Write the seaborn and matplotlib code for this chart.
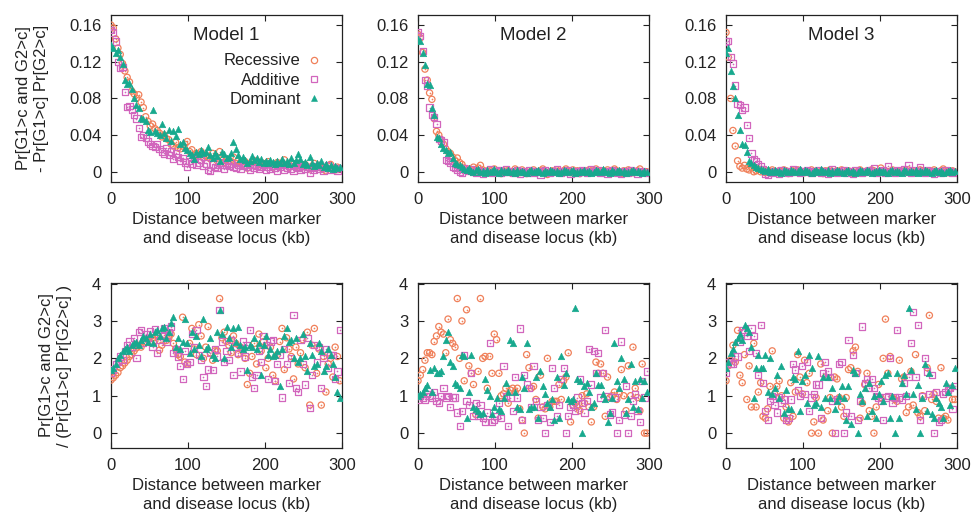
import matplotlib.pyplot as plt
import numpy as np
import pandas as pd
import seaborn as sns
from matplotlib.lines import Line2D

# marker to disease locus distance (kb), shared by every series
distance_kb = np.arange(0, 300, 3)

# %% top row: Pr[G1>c and G2>c] - Pr[G1>c] Pr[G2>c]  (values in units of 1e-3)
m1_diff_recessive = [
    160, 157, 145, 135, 128, 118, 110, 103, 98, 88,
    85, 80, 84, 76, 70, 60, 55, 50, 52, 47,
    45, 42, 38, 40, 36, 35, 30, 28, 32, 26,
    25, 28, 30, 33, 22, 24, 18, 20, 17, 22,
    15, 18, 16, 14, 20, 15, 12, 22, 13, 10,
    14, 12, 11, 16, 9, 12, 10, 8, 11, 4,
    9, 10, 7, 12, 8, 10, 6, 9, 11, 7,
    5, 8, 10, 6, 9, 13, 7, 5, 10, 8,
    6, 9, 4, 7, 8, 5, 3, 6, 9, 5,
    7, 4, 3, 1, 6, 8, 4, 2, 5, 3,
]
m1_diff_additive = [
    155, 152, 142, 120, 113, 114, 87, 71, 72, 68,
    62, 58, 48, 38, 40, 37, 33, 30, 28, 27,
    30, 25, 22, 20, 26, 18, 22, 14, 20, 16,
    12, 15, 10, 5, 12, 9, 14, 7, 10, 13,
    6, 9, 2, 1, 8, 5, 4, 10, 7, 3,
    8, 6, 9, 5, 4, 7, 3, 6, 8, 5,
    2, 7, 4, 6, 3, 5, 8, 2, 5, 3,
    6, 4, 1, 5, 7, 2, 4, 6, 3, 1,
    5, 4, 2, 6, 3, 5, -1, 4, 2, 6,
    3, 5, 1, 4, 7, 2, 5, 3, 1, 4,
]
m1_diff_dominant = [
    138, 135, 130, 133, 125, 118, 100, 96, 97, 90,
    80, 73, 70, 59, 58, 55, 46, 43, 67, 44,
    42, 40, 52, 42, 37, 45, 33, 44, 39, 47,
    30, 32, 26, 24, 20, 18, 14, 22, 19, 24,
    20, 22, 27, 18, 15, 20, 17, 12, 22, 19,
    15, 16, 20, 32, 25, 18, 14, 16, 13, 10,
    12, 17, 13, 15, 11, 14, 10, 12, 9, 13,
    11, 8, 12, 10, 14, 9, 12, 8, 15, 10,
    13, 19, 14, 8, 11, 7, 16, 9, 6, 10,
    7, 12, 5, 8, 4, 7, 3, 6, 4, 5,
]
m2_diff_recessive = [
    150, 146, 130, 112, 100, 86, 79, 58, 44, 40,
    35, 30, 25, 22, 20, 16, 12, 15, 10, 8,
    4, 2, 3, 1, 5, 2, 4, 7, 2, 0,
    1, -1, 2, 3, 0, 1, -2, 0, 2, 1,
    -1, 0, 3, 1, -1, 2, 0, -2, 1, 0,
    2, -1, 0, 1, 3, 0, -3, -1, 1, 0,
    2, 0, -1, 1, 3, 0, -1, 2, 0, 1,
    -2, 0, 1, -1, 2, 0, 1, 3, 0, -1,
    1, 0, 2, -1, 0, 3, 1, 0, -2, 1,
    0, 2, 1, -1, 0, 1, 3, 0, -1, 0,
]
m2_diff_additive = [
    152, 148, 132, 100, 94, 70, 62, 60, 52, 36,
    34, 32, 13, 12, 10, 5, 4, 2, 0, -1,
    4, 2, 1, 3, 0, -1, 2, 0, -2, 1,
    0, 3, -1, 0, 1, 2, -1, 0, 3, 0,
    1, -1, 0, 2, -2, 1, 0, -1, 2, 0,
    -1, 1, 0, -3, 1, 2, 0, -1, 0, 1,
    3, 0, -1, 1, 0, 2, -2, 0, 1, -1,
    0, 2, 1, -1, 0, 3, 1, 0, 2, -1,
    0, 1, -2, 0, 2, 1, -1, 0, -2, 1,
    0, -1, 2, 0, 1, -2, 0, 1, 0, -1,
]
m2_diff_dominant = [
    145, 143, 130, 117, 96, 95, 70, 62, 38, 37,
    30, 26, 24, 20, 22, 15, 10, 8, 7, 5,
    3, 2, 4, 1, 0, 2, 3, 0, 1, -1,
    2, 0, 1, 3, 0, -1, 2, 1, 0, 2,
    0, 1, -1, 2, 0, 1, 0, -1, 1, 2,
    0, 1, 2, 0, -1, 1, 0, 2, 1, 0,
    1, -1, 0, 2, 1, 0, 1, 2, -1, 0,
    1, 0, 2, 0, 1, -1, 0, 2, 1, 0,
    3, 1, 0, -1, 2, 0, 1, 2, 0, 1,
    -1, 0, 1, 2, 0, 1, 0, -1, 1, 0,
]
m3_diff_recessive = [
    152, 125, 80, 45, 28, 12, 6, 4, 7, 3,
    2, 5, 0, 1, 3, 0, 2, -1, 1, 0,
    2, 0, -1, 1, 0, 2, 1, -2, 0, 1,
    0, 2, 1, 0, -1, 1, 0, 2, -1, 0,
    1, 0, -2, 1, 0, 2, 0, -1, 1, 0,
    2, -1, 0, 1, 0, -2, 1, 0, 2, 0,
    -1, 1, 0, 2, 1, -1, 0, 4, 0, 1,
    0, -1, 2, 0, 1, 0, -1, 1, 0, 2,
    1, 0, -1, 0, 2, 1, -1, 0, 1, 0,
    2, 0, -1, 1, 3, 0, -1, 0, 1, 0,
]
m3_diff_additive = [
    142, 143, 125, 118, 94, 74, 73, 67, 70, 51,
    37, 20, 14, 12, 8, 6, 3, -2, -3, 0,
    -1, 1, 0, -2, 2, 0, 1, -1, 0, 3,
    0, 2, -1, 0, 1, 2, 0, -1, 1, 0,
    2, -1, 1, 0, -2, 1, 3, 0, -1, 1,
    0, 2, -1, 1, 0, -2, 2, 0, 1, -1,
    0, 1, 2, 0, 4, -1, 0, 1, 2, -1,
    6, 0, 1, -1, 2, 0, 1, 3, 0, 7,
    -1, 2, 0, 1, 5, 0, -1, 2, 0, 1,
    -2, 0, 1, -1, 0, 2, 0, 1, -1, 0,
]
m3_diff_dominant = [
    130, 135, 110, 94, 80, 62, 45, 30, 29, 22,
    12, 9, 7, 5, 4, 3, 2, 1, 3, 0,
    1, 2, 0, 1, -1, 2, 1, 0, 2, 1,
    0, 1, 3, 0, 2, 1, 0, -1, 1, 2,
    0, 3, 1, 0, 2, -1, 1, 0, 2, 1,
    0, -1, 1, 2, 0, 1, -1, 0, 2, 1,
    0, 2, 1, -1, 0, 1, 2, 0, 1, 0,
    -1, 1, 2, 0, 1, 0, -1, 2, 1, 0,
    1, 0, 2, -1, 1, 0, 2, 1, 0, -1,
    1, 2, 0, 1, -1, 0, 1, 2, 0, 1,
]

# %% bottom row: Pr[G1>c and G2>c] / (Pr[G1>c] Pr[G2>c])
m1_ratio_recessive = [
    1.42, 1.48, 1.55, 1.62, 1.75, 1.80, 1.88, 1.95, 2.05, 2.10,
    2.20, 2.28, 2.35, 2.30, 2.40, 2.45, 2.50, 2.42, 2.55, 2.48,
    2.60, 2.22, 2.35, 2.62, 2.48, 2.55, 2.65, 2.40, 2.25, 2.10,
    2.05, 3.10, 1.90, 1.85, 2.40, 2.80, 2.25, 2.10, 2.90, 2.60,
    2.00, 2.30, 2.85, 2.15, 1.95, 2.20, 2.20, 3.60, 2.55, 2.70,
    2.45, 2.35, 2.15, 2.60, 2.40, 2.10, 2.30, 2.20, 2.00, 1.30,
    1.60, 2.05, 2.40, 1.85, 2.65, 2.20, 2.45, 1.75, 2.00, 2.30,
    1.55, 1.40, 2.10, 2.45, 2.80, 1.70, 2.55, 2.25, 2.05, 1.45,
    2.30, 1.85, 2.15, 2.50, 1.75, 2.70, 0.75, 2.35, 2.80, 1.60,
    2.25, 0.75, 2.05, 1.10, 1.85, 2.00, 1.50, 2.30, 2.05, 1.40,
]
m1_ratio_additive = [
    1.62, 1.70, 1.85, 1.90, 2.05, 1.95, 2.20, 2.35, 2.45, 2.30,
    2.55, 2.00, 2.70, 2.75, 2.40, 2.65, 2.55, 2.72, 2.30, 2.78,
    2.15, 2.50, 2.60, 2.80, 2.45, 2.70, 2.85, 2.15, 2.25, 2.05,
    1.80, 1.45, 2.20, 1.85, 1.90, 2.65, 2.30, 2.75, 2.10, 1.95,
    1.50, 1.25, 1.70, 2.15, 1.68, 2.25, 2.05, 3.30, 2.45, 1.90,
    2.20, 1.95, 2.50, 1.55, 2.30, 2.15, 1.65, 2.45, 2.05, 2.35,
    2.75, 1.50, 1.20, 1.55, 2.20, 1.90, 2.60, 2.35, 1.45, 2.45,
    2.50, 1.40, 1.85, 2.10, 0.95, 2.25, 1.85, 1.35, 2.00, 3.15,
    1.20, 1.10, 2.50, 1.85, 1.30, 2.55, 0.68, 1.55, 2.35, 1.90,
    2.30, 1.20, 2.00, 2.25, 1.75, 2.10, 2.10, 1.45, 1.65, 2.75,
]
m1_ratio_dominant = [
    1.70, 1.75, 1.85, 2.00, 2.10, 2.20, 2.25, 2.30, 2.20, 2.35,
    2.40, 2.45, 2.35, 2.50, 2.60, 2.55, 2.45, 2.65, 2.40, 2.70,
    2.75, 2.60, 2.80, 2.85, 2.55, 2.70, 2.95, 3.10, 2.30, 2.55,
    2.25, 2.45, 3.05, 2.40, 2.15, 2.70, 2.25, 2.60, 2.35, 2.05,
    3.05, 2.25, 2.30, 2.55, 2.10, 2.00, 2.70, 3.30, 2.65, 2.00,
    2.85, 2.55, 2.30, 2.80, 2.45, 2.85, 2.35, 2.25, 2.30, 1.70,
    2.35, 2.30, 2.55, 2.25, 2.40, 1.55, 2.35, 2.60, 2.10, 2.25,
    2.05, 2.10, 2.20, 1.25, 2.25, 2.60, 2.80, 2.45, 2.50, 2.00,
    2.55, 1.90, 2.00, 2.65, 2.05, 1.65, 2.40, 2.10, 1.80, 1.85,
    2.40, 2.20, 1.65, 1.80, 2.25, 2.10, 1.85, 1.50, 1.10, 0.95,
]
m2_ratio_recessive = [
    1.40, 1.55, 1.70, 1.95, 2.15, 2.15, 2.10, 2.45, 2.60, 2.85,
    2.70, 2.65, 2.15, 3.05, 2.50, 2.40, 2.30, 3.60, 2.00, 3.00,
    1.40, 3.30, 1.80, 1.60, 1.30, 0.50, 1.65, 3.60, 2.00, 2.05,
    1.20, 2.05, 1.60, 2.65, 2.50, 1.60, 1.00, 1.05, 1.20, 0.80,
    1.15, 1.20, 1.10, 1.20, 0.65, 0.35, 0.00, 2.10, 1.75, 1.20,
    1.25, 0.90, 0.40, 1.55, 0.70, 0.65, 2.00, 0.70, 0.85, 0.85,
    0.85, 1.30, 0.90, 1.40, 1.50, 2.15, 0.30, 0.75, 0.80, 0.70,
    0.60, 1.00, 0.80, 1.05, 0.70, 0.30, 0.70, 1.90, 1.60, 1.85,
    1.60, 0.45, 1.50, 0.95, 1.00, 1.10, 0.90, 1.05, 1.70, 1.00,
    0.60, 1.80, 1.00, 2.30, 1.20, 0.95, 0.60, 1.85, 0.00, 0.00,
]
m2_ratio_additive = [
    0.90, 1.00, 0.95, 0.90, 1.05, 1.00, 0.95, 1.10, 0.85, 0.80,
    1.00, 1.20, 0.95, 1.00, 0.70, 0.95, 0.95, 0.55, 0.20, 0.60,
    2.10, 0.85, 0.75, 1.60, 0.45, 0.80, 0.45, 0.75, 0.40, 0.30,
    0.55, 2.40, 0.30, 0.35, 0.45, 0.80, 0.40, 1.80, 1.00, 0.20,
    0.95, 0.60, 1.50, 0.95, 2.80, 0.35, 1.55, 1.30, 1.20, 0.70,
    1.80, 0.85, 0.35, 0.70, 0.40, 0.00, 0.75, 0.30, 1.75, 1.20,
    0.45, 0.75, 1.45, 1.75, 0.00, 0.45, 0.70, 0.75, 0.60, 0.95,
    1.45, 0.80, 0.55, 0.85, 2.25, 1.30, 2.20, 1.60, 2.15, 0.95,
    1.60, 2.75, 1.00, 0.50, 0.55, 0.95, 0.00, 0.35, 2.45, 0.50,
    1.25, 0.00, 0.45, 0.85, 1.05, 0.60, 0.30, 1.40, 0.95, 1.65,
]
m2_ratio_dominant = [
    1.00, 1.05, 1.10, 1.20, 1.30, 1.70, 1.10, 1.75, 1.60, 1.60,
    1.65, 2.05, 2.50, 2.70, 1.90, 1.80, 1.35, 1.30, 1.20, 2.10,
    2.05, 0.40, 1.10, 2.10, 0.70, 0.65, 0.60, 0.50, 0.55, 1.45,
    1.15, 1.00, 0.50, 0.70, 0.95, 0.65, 0.60, 0.95, 1.35, 1.10,
    2.50, 2.40, 1.10, 0.70, 0.65, 1.50, 1.20, 2.40, 0.65, 0.70,
    0.70, 1.50, 0.40, 1.65, 1.25, 1.05, 0.80, 0.70, 0.90, 0.35,
    1.50, 0.40, 2.05, 1.30, 1.60, 0.90, 0.85, 0.90, 3.35, 1.45,
    1.40, 0.00, 1.25, 1.35, 1.10, 0.70, 0.80, 1.60, 1.30, 1.30,
    1.05, 0.90, 0.30, 0.55, 0.95, 2.40, 1.40, 1.20, 2.00, 1.45,
    0.55, 0.90, 1.85, 0.70, 1.40, 0.65, 1.45, 0.95, 1.40, 1.10,
]
m3_ratio_recessive = [
    1.40, 1.80, 1.95, 2.35, 1.90, 2.75, 1.55, 1.35, 2.10, 0.90,
    1.80, 0.70, 2.40, 0.70, 1.10, 1.35, 0.45, 0.40, 0.65, 1.25,
    2.20, 1.05, 1.25, 1.40, 1.00, 0.40, 0.70, 0.30, 1.35, 0.45,
    1.10, 2.10, 1.50, 1.05, 1.95, 1.35, 1.60, 0.00, 0.30, 0.95,
    0.00, 1.85, 0.35, 1.50, 0.60, 0.95, 0.00, 1.50, 1.45, 0.95,
    0.70, 0.45, 0.95, 1.70, 1.75, 2.20, 2.30, 1.65, 0.40, 0.80,
    1.30, 1.60, 0.60, 0.45, 0.00, 0.70, 1.30, 0.95, 2.00, 3.05,
    1.60, 2.05, 0.95, 0.90, 0.85, 1.95, 1.45, 1.50, 0.55, 0.70,
    1.65, 0.75, 2.10, 0.55, 0.45, 1.00, 0.60, 1.75, 3.15, 0.90,
    1.05, 0.85, 0.40, 1.75, 0.40, 0.45, 0.35, 1.20, 0.90, 0.90,
]
m3_ratio_additive = [
    1.60, 1.90, 1.85, 1.85, 2.05, 2.05, 2.45, 2.75, 2.70, 2.60,
    2.20, 2.80, 2.60, 2.15, 1.55, 2.90, 1.35, 0.60, 0.35, 0.85,
    1.00, 0.75, 0.55, 0.95, 0.80, 0.90, 0.35, 0.40, 0.90, 1.85,
    1.70, 1.15, 1.00, 1.80, 1.05, 1.90, 0.60, 0.95, 1.05, 1.30,
    1.30, 0.40, 1.60, 1.90, 1.65, 1.50, 0.85, 0.00, 0.90, 1.85,
    1.90, 0.00, 0.55, 2.50, 0.45, 2.10, 1.60, 0.35, 0.85, 2.85,
    1.35, 1.45, 1.20, 1.45, 1.20, 1.00, 0.95, 0.85, 0.35, 0.95,
    1.00, 2.00, 0.80, 0.95, 2.75, 0.95, 0.90, 1.35, 1.00, 1.50,
    2.40, 3.25, 1.50, 2.90, 0.35, 1.00, 2.00, 1.65, 1.05, 1.55,
    0.00, 1.10, 0.30, 0.35, 1.05, 1.10, 1.15, 1.20, 0.65, 1.25,
]
m3_ratio_dominant = [
    1.75, 1.90, 2.15, 2.25, 2.45, 2.55, 2.65, 2.50, 2.90, 2.80,
    2.70, 2.30, 0.95, 1.75, 2.10, 1.75, 1.75, 2.10, 1.10, 2.00,
    1.05, 1.20, 1.55, 0.95, 1.80, 0.55, 1.15, 0.65, 0.65, 1.50,
    1.45, 2.20, 0.60, 1.40, 1.55, 0.80, 2.10, 1.75, 0.75, 0.80,
    2.05, 0.70, 1.50, 0.95, 1.50, 0.95, 1.20, 0.65, 0.85, 1.00,
    1.25, 0.95, 0.35, 1.25, 0.25, 1.70, 1.60, 0.00, 1.05, 0.85,
    1.20, 0.45, 1.35, 0.60, 1.00, 0.40, 1.05, 1.40, 0.85, 1.55,
    1.60, 0.40, 1.00, 0.00, 1.60, 0.40, 1.35, 1.55, 1.05, 3.35,
    1.70, 1.05, 0.65, 1.30, 0.00, 0.95, 1.85, 0.60, 1.60, 0.50,
    0.40, 0.95, 0.80, 0.70, 0.40, 1.35, 1.10, 0.75, 1.30, 1.75,
]

models = ["Model 1", "Model 2", "Model 3"]
modes = ["Recessive", "Additive", "Dominant"]

diff_rows = [
    [m1_diff_recessive, m1_diff_additive, m1_diff_dominant],
    [m2_diff_recessive, m2_diff_additive, m2_diff_dominant],
    [m3_diff_recessive, m3_diff_additive, m3_diff_dominant],
]
ratio_rows = [
    [m1_ratio_recessive, m1_ratio_additive, m1_ratio_dominant],
    [m2_ratio_recessive, m2_ratio_additive, m2_ratio_dominant],
    [m3_ratio_recessive, m3_ratio_additive, m3_ratio_dominant],
]

# %%
colors = {"Recessive": "#f0805a", "Additive": "#d266bd", "Dominant": "#17a98e"}
markers = {"Recessive": "o", "Additive": "s", "Dominant": "^"}
ink = "#222222"

sns.set_theme(style="ticks")
plt.rcParams["font.family"] = ["Liberation Sans", "DejaVu Sans"]
plt.rcParams.update(
    {
        "font.size": 12,
        "text.color": ink,
        "axes.labelcolor": ink,
        "xtick.color": ink,
        "ytick.color": ink,
        "axes.edgecolor": ink,
        "axes.linewidth": 0.9,
    }
)


def draw_panel(ax, series, scale=1.0):
    for mode, values in zip(modes, series):
        df = pd.DataFrame(
            {"distance": distance_kb, "value": np.asarray(values, float) * scale}
        )
        c = colors[mode]
        if mode == "Dominant":
            sns.scatterplot(
                data=df, x="distance", y="value", marker="^", color=c,
                edgecolor=c, s=22, linewidth=0.4, ax=ax, zorder=4,
            )
        else:
            sns.scatterplot(
                data=df, x="distance", y="value", marker=markers[mode],
                facecolors="none", edgecolor=c, s=20, linewidth=0.9, ax=ax,
                zorder=3,
            )
            sns.scatterplot(
                data=df, x="distance", y="value", marker="o", color=c,
                s=1.5, linewidth=0, ax=ax, zorder=3,
            )


fig = plt.figure(figsize=(9.71, 5.18), dpi=100)
lefts = [0.1143, 0.4305, 0.7477]
width = 0.238
top_axes = [fig.add_axes([l, 0.649, width, 0.322]) for l in lefts]
bottom_axes = [fig.add_axes([l, 0.135, width, 0.319]) for l in lefts]

for i, ax in enumerate(top_axes):
    draw_panel(ax, diff_rows[i], scale=1e-3)
    ax.set_ylim(-0.011, 0.171)
    ax.set_yticks([0, 0.04, 0.08, 0.12, 0.16])
    ax.set_yticklabels(["0", "0.04", "0.08", "0.12", "0.16"])
    ax.text(0.5, 0.88, models[i], transform=ax.transAxes, ha="center",
            va="center", fontsize=13.5)

for i, ax in enumerate(bottom_axes):
    draw_panel(ax, ratio_rows[i])
    ax.set_ylim(-0.4, 4.02)
    ax.set_yticks([0, 1, 2, 3, 4])
    ax.set_yticklabels(["0", "1", "2", "3", "4"])

for ax in top_axes + bottom_axes:
    ax.set_xlim(0, 300)
    ax.set_xticks([0, 100, 200, 300])
    ax.tick_params(direction="in", top=True, right=True, length=4, width=0.8,
                   labelsize=12, pad=7)
    ax.set_xlabel("Distance between marker\nand disease locus (kb)",
                  fontsize=12, labelpad=4, linespacing=1.3)
    ax.set_ylabel("")
    for spine in ax.spines.values():
        spine.set_visible(True)

top_axes[0].set_ylabel("Pr[G1>c and G2>c]\n- Pr[G1>c] Pr[G2>c]",
                       fontsize=12, labelpad=14, linespacing=1.3)
bottom_axes[0].set_ylabel("Pr[G1>c and G2>c]\n/ (Pr[G1>c] Pr[G2>c] )",
                          fontsize=12, labelpad=14, linespacing=1.3)

handles = []
for mode in modes:
    if mode == "Dominant":
        h = Line2D([], [], ls="", marker="^", color=colors[mode],
                   markersize=4.7, markeredgewidth=0.4)
    else:
        h = Line2D([], [], ls="", marker=markers[mode], markerfacecolor="none",
                   markeredgecolor=colors[mode], markersize=4.5,
                   markeredgewidth=0.9)
    handles.append(h)
top_axes[0].legend(
    handles, modes, loc="upper right", bbox_to_anchor=(0.9, 0.77),
    frameon=False, markerfirst=False, handlelength=0.6, handletextpad=0.5,
    labelspacing=0.25, borderpad=0, borderaxespad=0, fontsize=12,
)

plt.savefig("out.png", dpi=100)
